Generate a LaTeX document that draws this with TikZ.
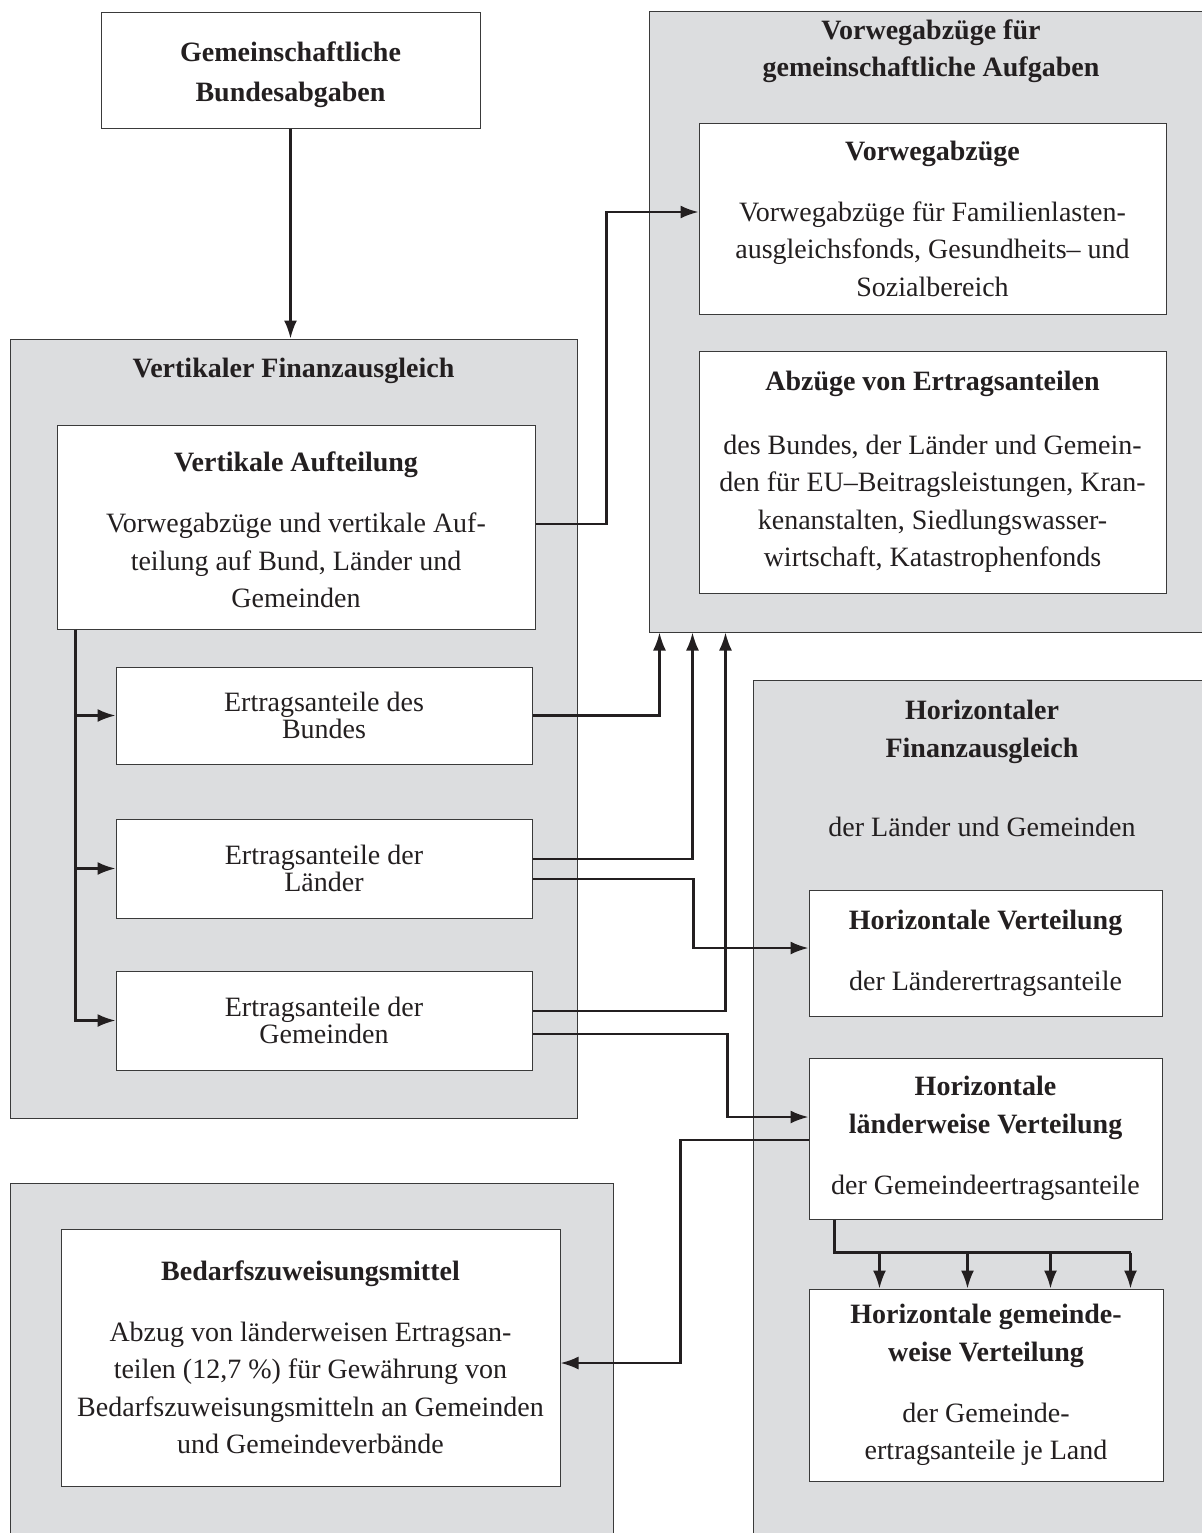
\documentclass[tikz,border=0pt]{standalone}
\usepackage{fontspec}
\setmainfont{Liberation Serif}
\usepackage{xcolor}
\usepackage{pgf,tikz}
\usetikzlibrary{shapes}
\usetikzlibrary{arrows.meta}
\tikzset{
  font={\fontsize{14pt}{18.75pt}\selectfont}}
\definecolor{panelgray}{HTML}{DCDDDF}
\definecolor{ink}{HTML}{231F20}
\definecolor{rulegray}{HTML}{3A3A3A}

\begin{document}
\begin{tikzpicture}[x = 0.5pt, y = -0.5pt]

    \tikzset{panel/.style = {rectangle, draw=rulegray, line width=0.5pt, fill=panelgray, inner sep=0pt}}
    \tikzset{box/.style = {rectangle, draw=rulegray, line width=0.5pt, fill=white, align=center, inner sep=0pt, text=ink}}
    \tikzset{share/.style = {box, font={\fontsize{14pt}{12.5pt}\selectfont}}}
    \tikzset{heading/.style = {align=center, text=ink, font={\fontsize{14pt}{18.75pt}\selectfont\bfseries}}}
    \tikzset{edge/.style = {-{Latex[length=9pt, width=6.5pt]}, draw=ink, line width=1.1pt}}
    \tikzset{wire/.style = {draw=ink, line width=1.1pt}}

    \useasboundingbox (0,0) rectangle (1202,1533);
    \clip (0,0) rectangle (1202,1533);

    % panels
    \node[panel, minimum width=283.5pt, minimum height=389.5pt] (pV) at (293.5,728.5) {};
    \node[panel, minimum width=285.5pt, minimum height=310.5pt] (pW) at (934.5,321.5) {};
    \node[panel, minimum width=233.5pt, minimum height=435pt] (pH) at (986.5,1115) {};
    \node[panel, minimum width=301.5pt, minimum height=183.5pt] (pB) at (311.5,1366.5) {};

    \node[heading] (tV) at (293.5,371) {Vertikaler Finanzausgleich};
    \node[heading] (tW) at (931,51) {Vorwegabzüge für\\gemeinschaftliche Aufgaben};
    \node[heading] (tH) at (982,732) {Horizontaler\\Finanzausgleich};
    \node[text=ink] (sH) at (982,827) {der Länder und Gemeinden};

    % vertices
    \node[box, minimum width=189.5pt, minimum height=58pt, font={\fontsize{14pt}{20pt}\selectfont\bfseries}] (g)
        at (290.5,70) {\rule{0pt}{15pt}Gemeinschaftliche\\Bundesabgaben};
    \node[box, minimum width=239pt, minimum height=102pt] (va)
        at (296,527) {\rule{0pt}{13pt}\textbf{Vertikale Aufteilung}\\[11.75pt]Vorwegabzüge und vertikale Auf-\\teilung auf Bund, Länder und\\Gemeinden};
    \node[share, minimum width=208pt, minimum height=48.5pt] (bund)
        at (324,715.5) {Ertragsanteile des\\Bundes};
    \node[share, minimum width=208pt, minimum height=49.5pt] (laender)
        at (324,868.5) {Ertragsanteile der\\Länder};
    \node[share, minimum width=208pt, minimum height=49.5pt] (gem)
        at (324,1020.5) {Ertragsanteile der\\Gemeinden};
    \node[box, minimum width=233.5pt, minimum height=95.5pt] (vw)
        at (932.5,218.5) {\textbf{Vorwegabzüge}\\[11.75pt]Vorwegabzüge für Familienlasten-\\ausgleichsfonds, Gesundheits– und\\Sozialbereich};
    \node[box, minimum width=233.5pt, minimum height=121pt] (ab)
        at (932.5,472) {\textbf{Abzüge von Ertragsanteilen}\\[13pt]des Bundes, der Länder und Gemein-\\den für EU–Beitragsleistungen, Kran-\\kenanstalten, Siedlungswasser-\\wirtschaft, Katastrophenfonds};
    \node[box, minimum width=176.5pt, minimum height=63pt] (hv)
        at (985.5,953) {\textbf{Horizontale Verteilung}\\[11.75pt]der Länderertragsanteile};
    \node[box, minimum width=176.5pt, minimum height=80.5pt] (lw)
        at (985.5,1138.5) {\textbf{Horizontale}\\\textbf{länderweise Verteilung}\\[11.75pt]der Gemeindeertragsanteile};
    \node[box, minimum width=177pt, minimum height=96pt] (gw)
        at (986,1385) {\textbf{Horizontale gemeinde-}\\\textbf{weise Verteilung}\\[11.75pt]der Gemeinde-\\ertragsanteile je Land};
    \node[box, minimum width=249.5pt, minimum height=128.5pt] (bd)
        at (310.5,1357.5) {\textbf{Bedarfszuweisungsmittel}\\[11.75pt]Abzug von länderweisen Ertragsan-\\teilen (12,7 \%) für Gewährung von\\Bedarfszuweisungsmitteln an Gemeinden\\und Gemeindeverbände};

    %edges
    \draw[edge] (g.south) -- (g.south |- pV.north);
    \draw[edge] ([yshift=1.5pt]va.east) -- ++(71,0) |- ([yshift=3.25pt]vw.west);
    \draw[edge] ([xshift=9.5pt]va.south west) |- (bund.west);
    \draw[edge] ([xshift=9.5pt]va.south west) |- (laender.west);
    \draw[edge] ([xshift=9.5pt]va.south west) |- (gem.west);
    \draw[edge] (bund.east) -| ([xshift=5.5pt]pW.south west);
    \draw[edge] ([yshift=4.75pt]laender.east) -| ([xshift=22pt]pW.south west);
    \draw[edge] ([yshift=4.75pt]gem.east) -| ([xshift=38.5pt]pW.south west);
    \draw[edge] ([yshift=-5.25pt]laender.east) -- ++(161,0) |- ([yshift=2.5pt]hv.west);
    \draw[edge] ([yshift=-6.75pt]gem.east) -- ++(195,0) |- ([yshift=10.75pt]lw.west);
    \draw[edge] ([yshift=-0.75pt]lw.west) -- ++(-128,0) |- ([yshift=-2.75pt]bd.east);
    \draw[wire] ([xshift=13pt]lw.south west) -- ++(0,33) coordinate (split) -- ++(296,0);
    \foreach \dx in {35.5pt, 79.5pt, 121pt, 161pt}
        \draw[edge] ([xshift=\dx]gw.north west |- split) -- ([xshift=\dx]gw.north west);

\end{tikzpicture}
\end{document}
